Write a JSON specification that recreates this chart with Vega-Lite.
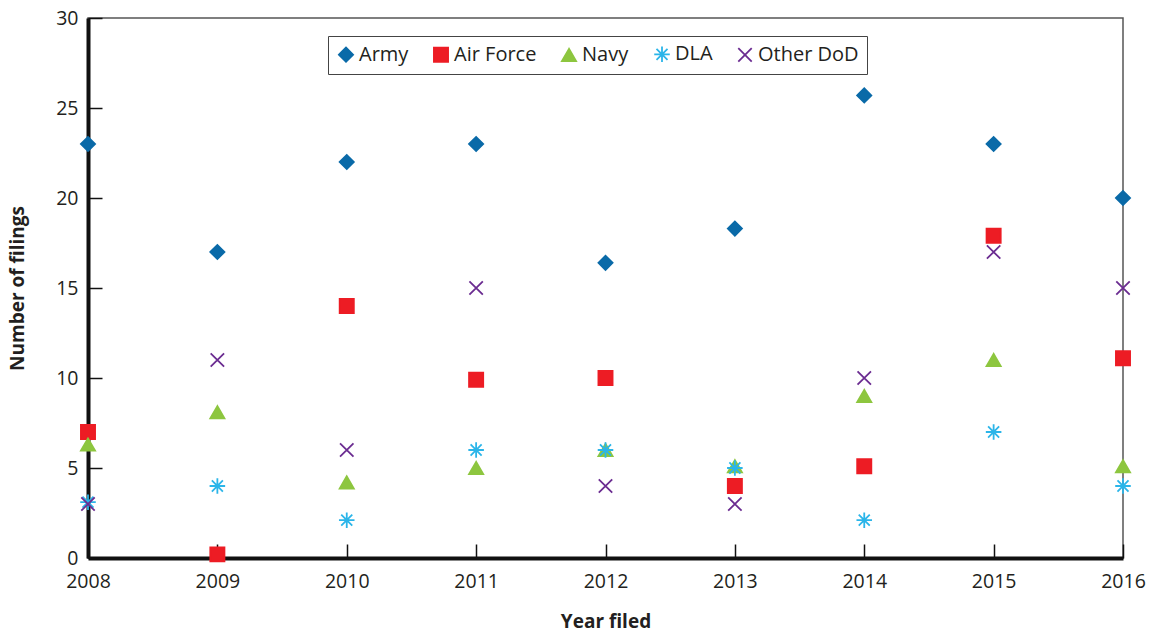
{
  "$schema": "https://vega.github.io/schema/vega-lite/v6.json",
  "autosize": {"type": "none"},
  "padding": {"left": 88, "top": 18, "right": 28, "bottom": 77},
  "width": 1035,
  "height": 540,
  "background": "white",
  "config": {
    "font": "Open Sans",
    "view": {"stroke": "#555555", "strokeWidth": 1.5},
    "axis": {"grid": false, "labelColor": "#231f20", "titleColor": "#231f20", "labelFontSize": 19.5, "titleFontSize": 19, "titleFontWeight": "bold", "domainColor": "#111111", "domainWidth": 4, "tickColor": "#111111", "tickWidth": 1.5},
    "legend": {"title": null, "orient": "none", "legendX": 240, "legendY": 18, "direction": "horizontal", "columns": 5, "padding": 8, "strokeColor": "#444444", "fillColor": "white", "labelFontSize": 20, "labelColor": "#231f20", "labelOffset": 3, "columnPadding": 21, "symbolSize": 200, "symbolStrokeWidth": 1.8}
  },
  "data": {
    "values": [
      {"year": 2008, "series": "Army", "n": 23},
      {"year": 2009, "series": "Army", "n": 17},
      {"year": 2010, "series": "Army", "n": 22},
      {"year": 2011, "series": "Army", "n": 23},
      {"year": 2012, "series": "Army", "n": 16.4},
      {"year": 2013, "series": "Army", "n": 18.3},
      {"year": 2014, "series": "Army", "n": 25.7},
      {"year": 2015, "series": "Army", "n": 23},
      {"year": 2016, "series": "Army", "n": 20},
      {"year": 2008, "series": "Air Force", "n": 7},
      {"year": 2009, "series": "Air Force", "n": 0.2},
      {"year": 2010, "series": "Air Force", "n": 14},
      {"year": 2011, "series": "Air Force", "n": 9.9},
      {"year": 2012, "series": "Air Force", "n": 10},
      {"year": 2013, "series": "Air Force", "n": 4},
      {"year": 2014, "series": "Air Force", "n": 5.1},
      {"year": 2015, "series": "Air Force", "n": 17.9},
      {"year": 2016, "series": "Air Force", "n": 11.1},
      {"year": 2008, "series": "Navy", "n": 6.3},
      {"year": 2009, "series": "Navy", "n": 8.1},
      {"year": 2010, "series": "Navy", "n": 4.2},
      {"year": 2011, "series": "Navy", "n": 5},
      {"year": 2012, "series": "Navy", "n": 6},
      {"year": 2013, "series": "Navy", "n": 5.1},
      {"year": 2014, "series": "Navy", "n": 9},
      {"year": 2015, "series": "Navy", "n": 11},
      {"year": 2016, "series": "Navy", "n": 5.1},
      {"year": 2008, "series": "DLA", "n": 3.1},
      {"year": 2009, "series": "DLA", "n": 4},
      {"year": 2010, "series": "DLA", "n": 2.1},
      {"year": 2011, "series": "DLA", "n": 6},
      {"year": 2012, "series": "DLA", "n": 6},
      {"year": 2013, "series": "DLA", "n": 5},
      {"year": 2014, "series": "DLA", "n": 2.1},
      {"year": 2015, "series": "DLA", "n": 7},
      {"year": 2016, "series": "DLA", "n": 4},
      {"year": 2008, "series": "Other DoD", "n": 3},
      {"year": 2009, "series": "Other DoD", "n": 11},
      {"year": 2010, "series": "Other DoD", "n": 6},
      {"year": 2011, "series": "Other DoD", "n": 15},
      {"year": 2012, "series": "Other DoD", "n": 4},
      {"year": 2013, "series": "Other DoD", "n": 3},
      {"year": 2014, "series": "Other DoD", "n": 10},
      {"year": 2015, "series": "Other DoD", "n": 17},
      {"year": 2016, "series": "Other DoD", "n": 15}
    ]
  },
  "mark": {"type": "point", "filled": true, "size": 200, "strokeWidth": 1.8, "opacity": 1},
  "encoding": {
    "x": {
      "field": "year", "type": "quantitative",
      "scale": {"domain": [2008, 2016], "nice": false, "zero": false},
      "axis": {"title": "Year filed", "format": "d", "values": [2008, 2009, 2010, 2011, 2012, 2013, 2014, 2015, 2016], "tickSize": -14, "labelPadding": 28, "titlePadding": 22, "labelFlush": false}
    },
    "y": {
      "field": "n", "type": "quantitative",
      "scale": {"domain": [0, 30], "nice": false},
      "axis": {"title": "Number of filings", "values": [0, 5, 10, 15, 20, 25, 30], "tickSize": -14, "labelPadding": 24, "titlePadding": 28}
    },
    "color": {
      "field": "series", "type": "nominal",
      "scale": {"domain": ["Army", "Air Force", "Navy", "DLA", "Other DoD"], "range": ["#0a6aa8", "#ed1c24", "#8dc63f", "#2bb5e9", "#6b2c91"]}
    },
    "stroke": {
      "field": "series", "type": "nominal",
      "scale": {"domain": ["Army", "Air Force", "Navy", "DLA", "Other DoD"], "range": ["#0a6aa8", "#ed1c24", "#8dc63f", "#2bb5e9", "#6b2c91"]}
    },
    "shape": {
      "field": "series", "type": "nominal",
      "scale": {"domain": ["Army", "Air Force", "Navy", "DLA", "Other DoD"], "range": ["diamond", "square", "triangle-up", "M-1.1,0L1.1,0M0,-1.1L0,1.1M-0.78,-0.78L0.78,0.78M-0.78,0.78L0.78,-0.78", "M-0.95,-0.95L0.95,0.95M-0.95,0.95L0.95,-0.95"]}
    }
  }
}
